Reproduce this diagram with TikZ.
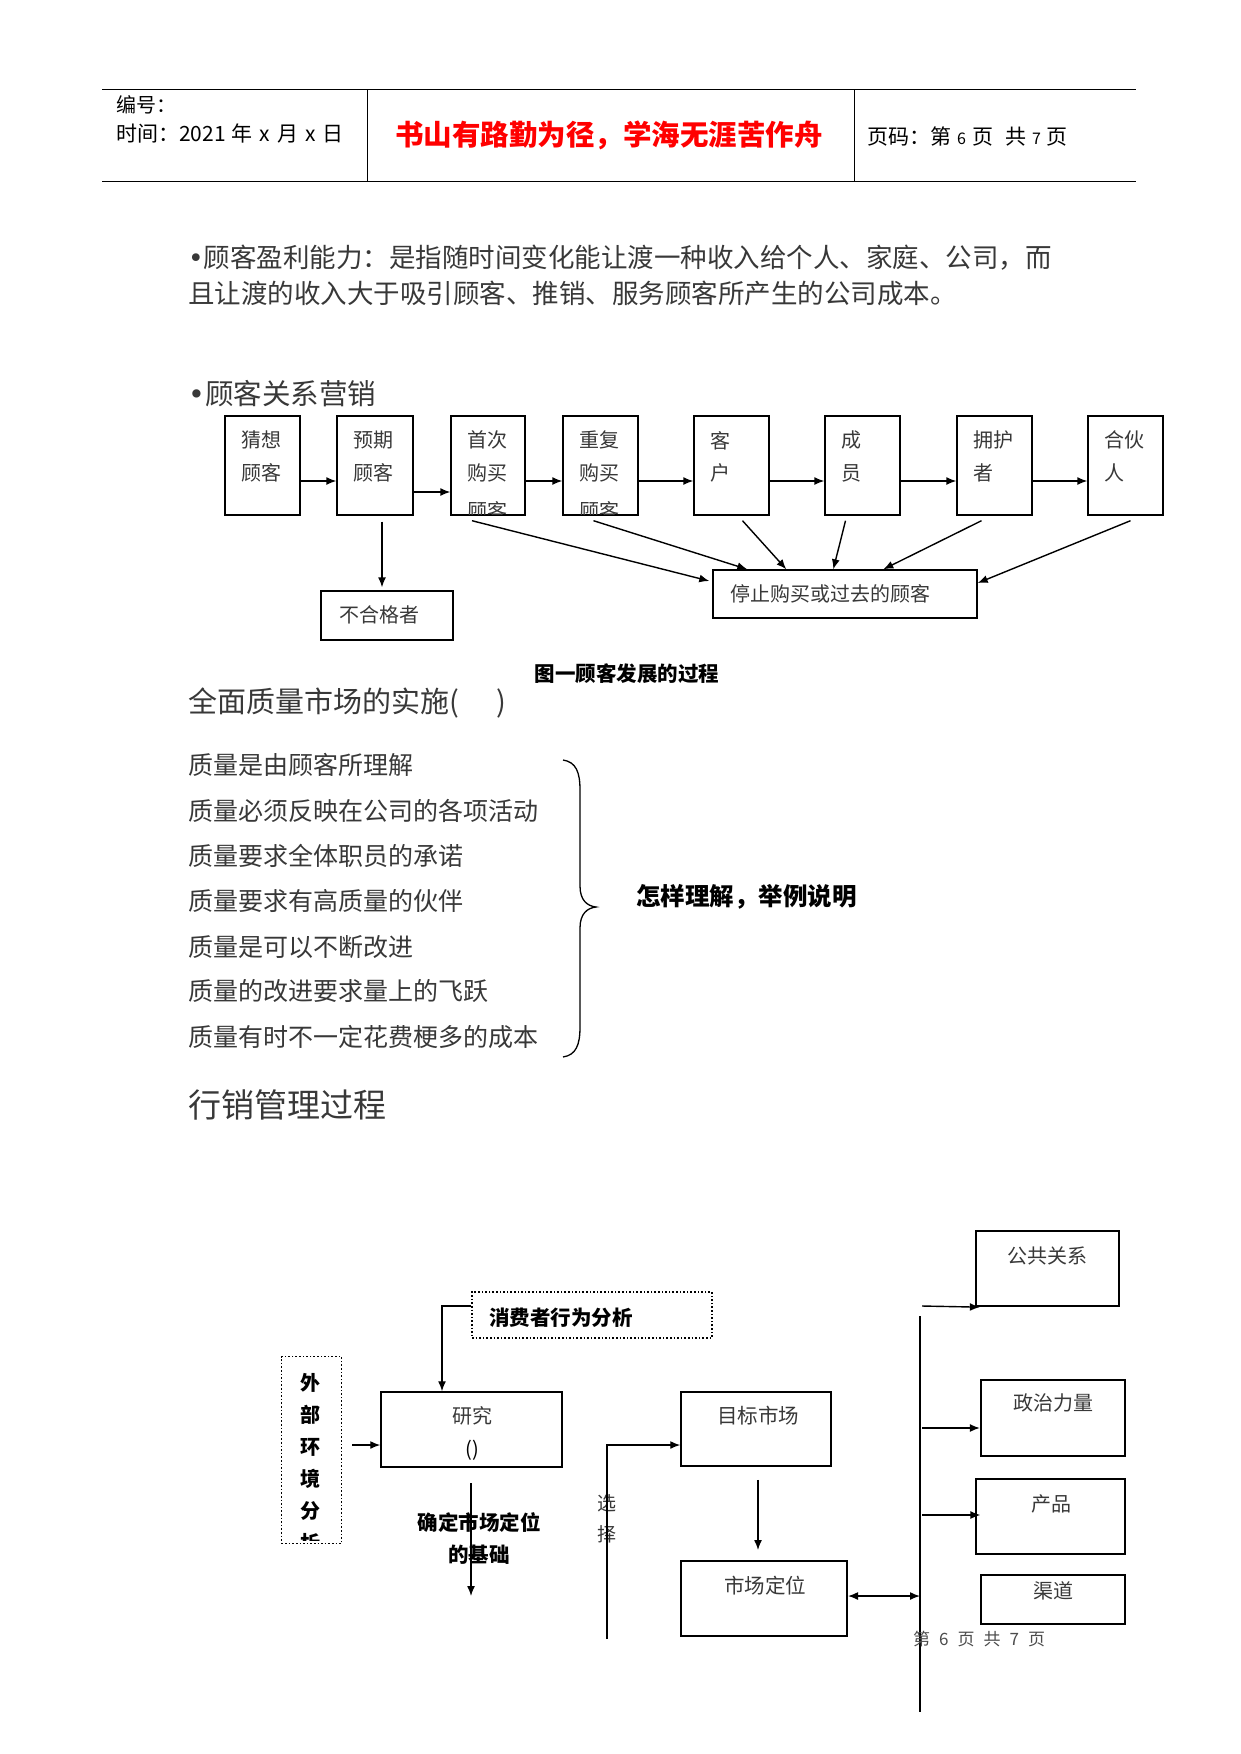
\documentclass[tikz,border=0pt]{standalone}
\usepackage{fontspec}
\setmainfont{Noto Sans CJK SC}
\newfontfamily\djfont{DejaVu Sans}
\usetikzlibrary{arrows.meta}
\newcommand{\mybul}{{\djfont\char"2022}}
\begin{document}
\begin{tikzpicture}[x=1pt,y=-1pt,
  fs/.style={font=\fontsize{#1}{#1}\selectfont},
  fsb/.style={font=\fontsize{#1}{#1}\selectfont\bfseries},
  txt/.style={inner sep=0pt, text=black!78},
  lt/.style={txt, anchor=west},
  box/.style={draw, line width=1.4pt, inner sep=0pt},
  dotbox/.style={draw, dotted, line width=1.6pt, inner sep=0pt},
  tip/.tip={Latex[length=10pt,width=8pt]},
  arr/.style={line width=1.4pt, -tip},
  darr/.style={line width=1.4pt, tip-tip},
  hdr/.style={line width=1pt}
]
\useasboundingbox (0,0) rectangle (1241,1754);

% ---------- header ----------
\coordinate (hl1) at (102,89.5);
\coordinate (hr1) at (1136,89.5);
\coordinate (hl2) at (102,181);
\coordinate (hr2) at (1136,181);
\draw[hdr] (hl1) -- (hr1);
\draw[hdr] (hl2) -- (hr2);
\coordinate (d1t) at (367,89.5); \coordinate (d1b) at (367,181);
\coordinate (d2t) at (854,89.5); \coordinate (d2b) at (854,181);
\draw[hdr] (d1t) -- (d1b);
\draw[hdr] (d2t) -- (d2b);
\node[lt,fs=20,text=black] (h1) at (116,105) {编号：};
\node[lt,fs=21,text=black] (h2) at (116,133) {时间：2021\hspace{6pt}年\hspace{7pt}x\hspace{7pt}月\hspace{7pt}x\hspace{7pt}日};
\node[txt,fsb=28.5,text=red] (h3) at (609,135) {书山有路勤为径，学海无涯苦作舟};
\node[lt,fs=21,text=black] (h4) at (867,136) {页码：第\hspace{6pt}{\fontsize{16}{16}\selectfont 6}\hspace{6pt}页\hspace{12pt}共\hspace{6pt}{\fontsize{16}{16}\selectfont 7}\hspace{6pt}页};

% ---------- body text ----------
\node[lt,fs=26.5] (p1) at (188,258) {\mybul 顾客盈利能力：是指随时间变化能让渡一种收入给个人、家庭、公司，而};
\node[lt,fs=26.5] (p2) at (188,293) {且让渡的收入大于吸引顾客、推销、服务顾客所产生的公司成本。};
\node[lt,fs=28.5] (p3) at (188,394) {\mybul 顾客关系营销};

% ---------- diagram 1 ----------
\node[box,minimum width=75pt,minimum height=99pt] (b1) at (262.5,465.5) {};
\node[box,minimum width=76pt,minimum height=99pt] (b2) at (375,465.5) {};
\node[box,minimum width=74pt,minimum height=99pt] (b3) at (488,465.5) {};
\node[box,minimum width=75pt,minimum height=99pt] (b4) at (600.5,465.5) {};
\node[box,minimum width=75pt,minimum height=99pt] (b5) at (731.5,465.5) {};
\node[box,minimum width=75pt,minimum height=99pt] (b6) at (862.5,465.5) {};
\node[box,minimum width=75pt,minimum height=99pt] (b7) at (994.5,465.5) {};
\node[box,minimum width=75pt,minimum height=99pt] (b8) at (1125.5,465.5) {};

\foreach \b/\la/\lb in {b1/猜想/顾客, b2/预期/顾客, b3/首次/购买, b4/重复/购买, b5/客/户, b6/成/员, b7/拥护/者, b8/合伙/人}{
  \node[lt,fs=20] at ([shift={(17pt,-25pt)}]\b.north west) {\la};
  \node[lt,fs=20] at ([shift={(17pt,-58pt)}]\b.north west) {\lb};
}
\begin{scope}
  \clip ([yshift=-1pt]b3.north west) rectangle ([yshift=1.5pt]b4.south east);
  \node[lt,fs=20] at ([shift={(17pt,-96pt)}]b3.north west) {顾客};
  \node[lt,fs=20] at ([shift={(17pt,-96pt)}]b4.north west) {顾客};
\end{scope}

\coordinate (ry) at (0,481);
\coordinate (ry2) at (0,492);
\draw[arr] (b1.east |- ry) -- (b2.west |- ry);
\draw[arr] (b2.east |- ry2) -- (b3.west |- ry2);
\draw[arr] (b3.east |- ry) -- (b4.west |- ry);
\draw[arr] (b4.east |- ry) -- (b5.west |- ry);
\draw[arr] (b5.east |- ry) -- (b6.west |- ry);
\draw[arr] (b6.east |- ry) -- (b7.west |- ry);
\draw[arr] (b7.east |- ry) -- (b8.west |- ry);

\node[box,minimum width=132pt,minimum height=49pt] (bh) at (387,615.5) {};
\node[lt,fs=20] (bht) at (339,615) {不合格者};
\coordinate (q1) at ([xshift=7pt,yshift=-6pt]b2.south);
\draw[arr] (q1) -- ([yshift=3pt]q1 |- bh.north);

\node[box,minimum width=264pt,minimum height=48pt] (st) at (845,594) {};
\node[lt,fs=20] (stt) at (730,594) {停止购买或过去的顾客};
\draw[arr] ([shift={(-16pt,-5pt)}]b3.south) -- ([shift={(-3pt,13pt)}]st.west);
\draw[arr] ([shift={(-7pt,-5pt)}]b4.south) -- ([xshift=35pt]st.north west);
\draw[arr] ([shift={(11pt,-5pt)}]b5.south) -- ([xshift=74pt]st.north west);
\draw[arr] ([shift={(-17pt,-5pt)}]b6.south) -- ([xshift=121pt]st.north west);
\draw[arr] ([shift={(-13pt,-5pt)}]b7.south) -- ([xshift=171pt]st.north west);
\draw[arr] ([shift={(5pt,-5pt)}]b8.south) -- ([yshift=11pt]st.east);

\node[txt,fsb=20.5,text=black] (cap) at (627,674) {图一顾客发展的过程};

% ---------- quality list ----------
\node[lt,fs=29] (q0) at (188,703) {全面质量市场的实施(\hspace{38pt})};
\node[lt,fs=25] (l1) at (188,765) {质量是由顾客所理解};
\node[lt,fs=25] (l2) at (188,811) {质量必须反映在公司的各项活动};
\node[lt,fs=25] (l3) at (188,856) {质量要求全体职员的承诺};
\node[lt,fs=25] (l4) at (188,901) {质量要求有高质量的伙伴};
\node[lt,fs=25] (l5) at (188,947) {质量是可以不断改进};
\node[lt,fs=25] (l6) at (188,991) {质量的改进要求量上的飞跃};
\node[lt,fs=25] (l7) at (188,1037) {质量有时不一定花费梗多的成本};
\draw[line width=1.3pt] (563,760) .. controls (576,762) and (580,772) .. (580,790) -- (580,886)
  .. controls (580,900) and (587,906) .. (596,907)
  .. controls (587,908) and (580,914) .. (580,928) -- (580,1027)
  .. controls (580,1045) and (576,1055) .. (563,1057);
\node[lt,fsb=24.5,text=black] (how) at (636,897) {怎样理解，举例说明};

\node[lt,fs=33] (mg) at (188,1105) {行销管理过程};

% ---------- diagram 2 ----------
\node[dotbox,minimum width=240pt,minimum height=46pt] (cb) at (592,1315) {};
\node[lt,fsb=20.5,text=black] (cbt) at (489,1318) {消费者行为分析};

\node[dotbox,minimum width=60pt,minimum height=187pt] (ext) at (311.5,1450) {};
\begin{scope}
  \clip ([shift={(3pt,-3pt)}]ext.north west) rectangle ([shift={(-3pt,4pt)}]ext.south east);
  \foreach \c [count=\i from 0] in {外,部,环,境,分,析}{
    \node[txt,fsb=20,text=black] at (310,1383+32*\i) {\c};
  }
\end{scope}

\node[box,line width=1.5pt,minimum width=181pt,minimum height=75pt] (yj) at (471.5,1429.5) {};
\node[txt,fs=20] (yjt) at (472,1416) {研究};
\node[txt,fs=20,text=black] (yjp) at (472,1450) {()};

\coordinate (k1) at (442,1306);
\draw[arr] (cb.west |- k1) -- (k1) -- (k1 |- yj.north);
\coordinate (k2) at (352,1445);
\draw[arr] (k2) -- (yj.west |- k2);

\coordinate (k3) at (471,1483);
\coordinate (k3b) at (471,1596);
\draw[arr] (k3) -- (k3b);
\node[txt,fsb=20.5,text=black] (jc1) at (479,1523) {确定市场定位};
\node[txt,fsb=20.5,text=black] (jc2) at (479,1555) {的基础};

\node[box,line width=1.5pt,minimum width=150pt,minimum height=74pt] (mb) at (756,1429) {};
\node[txt,fs=20.5] (mbt) at (758,1416) {目标市场};
\node[box,line width=2pt,minimum width=166pt,minimum height=75pt] (sc) at (764,1598.5) {};
\node[txt,fs=20.5] (sct) at (765,1586) {市场定位};

\node[txt,fs=19] (xz1) at (607,1503) {选};
\node[txt,fs=19] (xz2) at (607,1534) {择};
\coordinate (k4) at (607,1639);
\coordinate (k5) at (607,1445);
\draw[arr] (k4) -- (k5) -- (mb.west |- k5);

\draw[arr] ([xshift=2pt,yshift=-13pt]mb.south) -- ([xshift=-6pt,yshift=10pt]sc.north);

\coordinate (vt) at (920,1316);
\coordinate (vb) at (920,1712);
\draw[line width=1.3pt] (vt) -- (vb);
\coordinate (k6) at (920,1596);
\draw[darr] (sc.east |- k6) -- (k6);

\node[box,line width=2.3pt,minimum width=143pt,minimum height=75pt] (gg) at (1047.5,1268.5) {};
\node[txt,fs=20] (ggt) at (1047,1256) {公共关系};
\node[box,line width=2.3pt,minimum width=144pt,minimum height=76pt] (zz) at (1053,1418) {};
\node[txt,fs=20] (zzt) at (1053,1403) {政治力量};
\node[box,line width=1.3pt,minimum width=149pt,minimum height=75pt] (cp) at (1050.5,1516.5) {};
\node[txt,fs=20] (cpt) at (1051,1504) {产品};
\node[box,line width=2.3pt,minimum width=144pt,minimum height=49pt] (qd) at (1053,1599.5) {};
\node[txt,fs=20] (qdt) at (1053,1591) {渠道};

\coordinate (a1) at (922,1306);
\coordinate (a2) at (922,1428);
\coordinate (a3) at (922,1515);
\draw[arr] (a1) -- ([xshift=5pt]gg.south west);
\draw[arr] (a2) -- (zz.west |- a2);
\draw[arr] (a3) -- ([xshift=5pt]cp.west |- a3);

\node[lt,fs=17,text=black!70] (ft) at (913,1639) {第\hspace{9pt}6\hspace{9pt}页\hspace{9pt}共\hspace{9pt}7\hspace{9pt}页};
\end{tikzpicture}
\end{document}
